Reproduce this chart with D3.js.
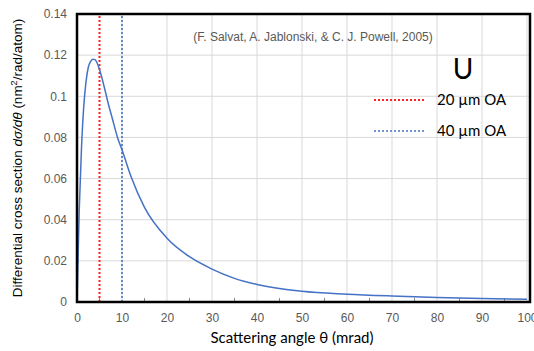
<!DOCTYPE html>
<html>
<head>
  <meta charset="utf-8"><script src="https://d3js.org/d3.v7.min.js"></script>
  <style>body{margin:0;background:#fff}</style>
</head>
<body>
  <svg id="mychart" width="534" height="351" style="background: white"></svg>
<script>
  // curve: angle (mrad) and cross section (nm^2/rad/atom)
  const angle = [0, 0.5, 1, 1.5, 2, 2.5, 3, 3.5, 4, 5, 6, 7, 8, 9, 10, 12, 15, 20, 25, 30, 35, 40, 50, 60, 70, 80, 90, 100]
  const sigma = [0, 0.045, 0.075, 0.095, 0.107, 0.114, 0.1168, 0.118, 0.1178, 0.113, 0.105, 0.096, 0.088, 0.080, 0.074, 0.061, 0.046, 0.031, 0.022, 0.016, 0.0115, 0.0085, 0.0052, 0.0038, 0.0029, 0.0022, 0.0017, 0.0013]
  const xTicks = [0, 10, 20, 30, 40, 50, 60, 70, 80, 90, 100]
  const xMinor = [5, 15, 25, 35, 45, 55, 65, 75, 85, 95]
  const yTicks = [0, 0.02, 0.04, 0.06, 0.08, 0.1, 0.12, 0.14]
  const apertures = [5, 10]
  const apertureNames = ["20 µm OA", "40 µm OA"]
  const apertureColors = ["#ff2020", "#4472c4"]

  const data = angle.map((a, i) => ({a, s: sigma[i]}))

  const margin = {top: 14, right: 4, bottom: 49, left: 77}
  const width = 534, height = 351

  const x = d3.scaleLinear().domain([0, 100]).range([margin.left, 527])
  const y = d3.scaleLinear().domain([0, 0.14]).range([height - margin.bottom, margin.top])

  const svg = d3.select("#mychart")
  const grey = "#595959"

  // gridlines
  svg.append("g").selectAll("line").data(xTicks.slice(1)).join("line")
    .attr("x1", d => x(d)).attr("x2", d => x(d))
    .attr("y1", y(0)).attr("y2", y(0.14))
    .attr("stroke", "#d9d9d9").attr("stroke-width", 1)
  svg.append("g").selectAll("line").data(yTicks.slice(1)).join("line")
    .attr("x1", x(0)).attr("x2", 530)
    .attr("y1", d => y(d)).attr("y2", d => y(d))
    .attr("stroke", "#d9d9d9").attr("stroke-width", 1)

  // minor ticks along the bottom
  svg.append("g").selectAll("line").data(xMinor).join("line")
    .attr("x1", d => x(d)).attr("x2", d => x(d))
    .attr("y1", y(0)).attr("y2", y(0) - 4)
    .attr("stroke", "#888").attr("stroke-width", 1)

  // axes (labels only)
  const xAxis = g => g
    .attr("transform", `translate(0,${y(0)})`)
    .call(d3.axisBottom(x).tickValues(xTicks).tickSize(0).tickPadding(11).tickFormat(d3.format("d")))
    .call(g => g.select(".domain").remove())
  const yAxis = g => g
    .attr("transform", `translate(${margin.left},0)`)
    .call(d3.axisLeft(y).tickValues(yTicks).tickSize(0).tickPadding(10).tickFormat(d => d === 0 ? "0" : d3.format("~g")(d)))
    .call(g => g.select(".domain").remove())

  svg.append("g").call(xAxis)
    .selectAll("text").attr("fill", grey).attr("font-size", 12).attr("font-family", "Liberation Sans, Arial")
  svg.append("g").call(yAxis)
    .selectAll("text").attr("fill", grey).attr("font-size", 12).attr("font-family", "Liberation Sans, Arial")

  // aperture lines
  svg.append("g").selectAll("line").data(apertures).join("line")
    .attr("x1", d => x(d)).attr("x2", d => x(d))
    .attr("y1", y(0)).attr("y2", y(0.14))
    .attr("stroke", (d, i) => apertureColors[i])
    .attr("stroke-width", (d, i) => i === 0 ? 2 : 1.6)
    .attr("stroke-dasharray", "2,2")

  // the curve
  const line = d3.line()
    .x(d => x(d.a))
    .y(d => y(d.s))
    .curve(d3.curveMonotoneX)

  svg.append("path")
    .datum(data)
    .attr("fill", "none")
    .attr("stroke", "#4472c4")
    .attr("stroke-width", 1.5)
    .attr("d", line)

  // frame
  svg.append("rect")
    .attr("x", x(0)).attr("y", y(0.14))
    .attr("width", 530 - x(0)).attr("height", y(0) - y(0.14))
    .attr("fill", "none").attr("stroke", "black").attr("stroke-width", 2.5)

  // citation
  svg.append("text")
    .attr("x", 313).attr("y", 41)
    .attr("text-anchor", "middle")
    .attr("font-family", "Liberation Sans, Arial").attr("font-size", 12)
    .attr("fill", grey)
    .text("(F. Salvat, A. Jablonski, & C. J. Powell, 2005)")

  // legend
  svg.append("text")
    .attr("x", 463).attr("y", 79)
    .attr("text-anchor", "middle")
    .attr("font-family", "Lato, Open Sans").attr("font-size", 28)
    .attr("fill", "black")
    .text("U")

  const legend = svg.append("g").selectAll("g").data(apertureNames).join("g")
    .attr("transform", (d, i) => `translate(0,${100 + i * 31})`)
  legend.append("line")
    .attr("x1", 374).attr("x2", 424)
    .attr("stroke", (d, i) => apertureColors[i])
    .attr("stroke-width", (d, i) => i === 0 ? 2 : 1.6)
    .attr("stroke-dasharray", "2,2")
  legend.append("text")
    .attr("x", 437).attr("y", 5)
    .attr("font-family", "Lato, Open Sans").attr("font-size", 15)
    .attr("fill", "black")
    .text(d => d)

  // axis titles
  svg.append("text")
    .attr("x", 292).attr("y", 343)
    .attr("text-anchor", "middle")
    .attr("font-family", "Lato, Open Sans").attr("font-size", 15)
    .attr("fill", "black")
    .text("Scattering angle θ (mrad)")

  const yt = svg.append("text")
    .attr("transform", "translate(22,158) rotate(-90)")
    .attr("text-anchor", "middle")
    .attr("font-family", "Liberation Sans, Arial").attr("font-size", 13.5)
    .attr("fill", "black")
  yt.append("tspan").text("Differential cross section ")
  yt.append("tspan").attr("font-style", "italic").text("dσ/dθ")
  yt.append("tspan").text(" (nm")
  yt.append("tspan").attr("font-size", 9).attr("dy", -5).text("2")
  yt.append("tspan").attr("dy", 5).text("/rad/atom)")
</script>
</body>
</html>
